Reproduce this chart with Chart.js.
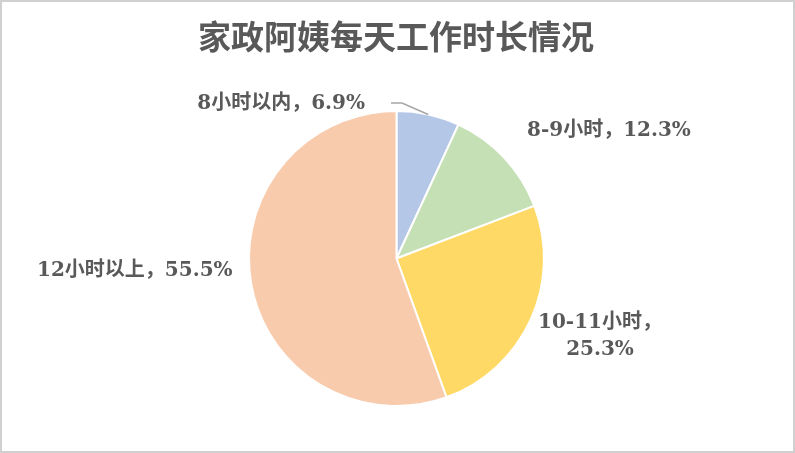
<!DOCTYPE html>
<html>
<head>
<meta charset="utf-8">
<script src="https://cdn.jsdelivr.net/npm/chart.js@4"></script>
<style>
  html, body { margin: 0; padding: 0; background: #fff; }
  #wrap { width: 795px; height: 453px; position: relative; box-sizing: border-box; border: 2px solid #d0d0d0; overflow: hidden; }
  #chart { position: absolute; left: -2px; top: -2px; }
</style>
</head>
<body>
<div id="wrap"><canvas id="chart" width="795" height="453"></canvas></div>
<script>
const title = '家政阿姨每天工作时长情况';
const categories = ['8小时以内', '8-9小时', '10-11小时', '12小时以上'];
const shares = [6.9, 12.3, 25.3, 55.5];
const colors = ['#B4C7E7', '#C5E0B4', '#FFD966', '#F8CBAD'];

const TEXT = '#595959';
const LABEL_FONT = 'bold 20px "DejaVu Serif", "Noto Sans CJK SC", serif';
const TITLE_FONT = 'bold 33px "DejaVu Serif", "Noto Sans CJK SC", serif';

// label placement relative to the pie centre (pixels); lines are stacked
const labelLayout = [
  { dx: -31.5, dy: -154.5, align: 'right', lines: 1, leader: [[5.5, -155.5], [-5.5, -155.5]] },
  { dx: 130.5, dy: -127.5, align: 'left', lines: 1 },
  { dx: 203.5, dy: 64.5, align: 'center', lines: 2 },
  { dx: -359.5, dy: 12.5, align: 'left', lines: 1 }
];

const labelsPlugin = {
  id: 'pieLabels',
  afterDraw(chart) {
    const ctx = chart.ctx;
    const meta = chart.getDatasetMeta(0);
    ctx.save();
    // title
    ctx.fillStyle = TEXT;
    ctx.font = TITLE_FONT;
    ctx.textAlign = 'center';
    ctx.textBaseline = 'middle';
    ctx.fillText(title, 396, 40);

    ctx.font = LABEL_FONT;
    meta.data.forEach((arc, i) => {
      const L = labelLayout[i];
      const cx = arc.x, cy = arc.y;
      const text = categories[i] + '，' + shares[i].toFixed(1) + '%';
      ctx.fillStyle = TEXT;
      ctx.textAlign = L.align;
      ctx.textBaseline = 'middle';
      if (L.lines === 2) {
        ctx.fillText(categories[i] + '，', cx + L.dx, cy + L.dy);
        ctx.fillText(shares[i].toFixed(1) + '%', cx + L.dx, cy + L.dy + 27);
      } else {
        ctx.fillText(text, cx + L.dx, cy + L.dy);
      }
      if (L.leader) {
        const mid = (arc.startAngle + arc.endAngle) / 2;
        const r = arc.outerRadius;
        ctx.strokeStyle = '#A6A6A6';
        ctx.lineWidth = 1.5;
        ctx.beginPath();
        ctx.moveTo(cx + r * Math.cos(mid), cy + r * Math.sin(mid));
        L.leader.forEach(p => ctx.lineTo(cx + p[0], cy + p[1]));
        ctx.stroke();
      }
    });
    ctx.restore();
  }
};

new Chart(document.getElementById('chart'), {
  type: 'pie',
  data: {
    labels: categories,
    datasets: [{
      data: shares,
      backgroundColor: colors,
      borderColor: '#ffffff',
      borderWidth: 2
    }]
  },
  options: {
    responsive: false,
    animation: false,
    devicePixelRatio: 1,
    layout: { padding: { top: 110, bottom: 46, left: 0, right: 2 } },
    plugins: {
      legend: { display: false },
      tooltip: { enabled: false },
      title: { display: false }
    }
  },
  plugins: [labelsPlugin]
});
</script>
</body>
</html>
